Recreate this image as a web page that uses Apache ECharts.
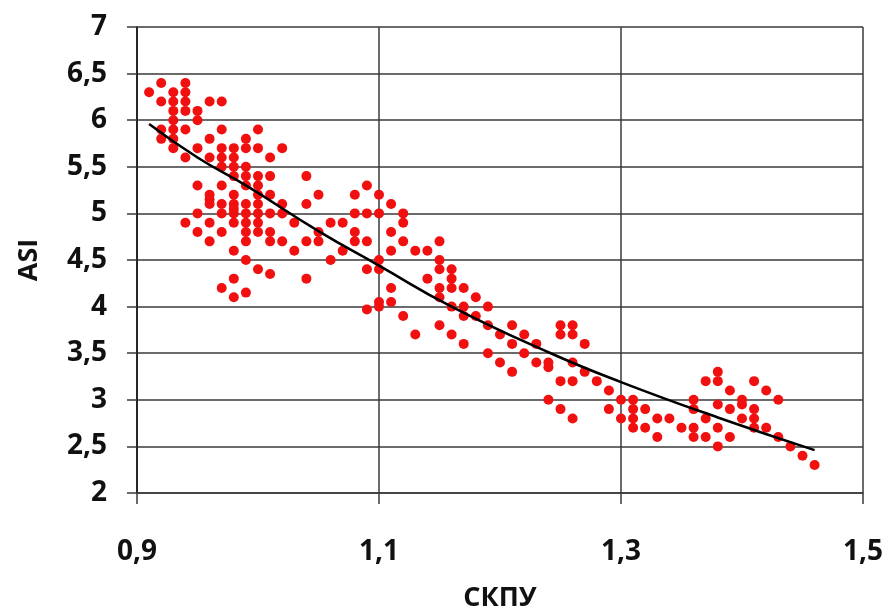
<!DOCTYPE html>
<html>
<head>
<meta charset="utf-8">
<script src="https://cdn.jsdelivr.net/npm/echarts@6/dist/echarts.min.js"></script>
<style>
  html, body { margin: 0; padding: 0; background: #fff; }
  #chart-container { width: 887px; height: 608px; }
</style>
</head>
<body>
<div id="chart-container"></div>
<script>
var dom = document.getElementById("chart-container");
var myChart = echarts.init(dom, null, { renderer: "canvas" });

// СКПУ -> ASI measurements, grouped by СКПУ value
const skpuValues = [
  0.91, 0.92, 0.93, 0.94, 0.95, 0.96, 0.97, 0.98, 0.99, 1.00,
  1.01, 1.02, 1.03, 1.04, 1.05, 1.06, 1.07, 1.08, 1.09, 1.10,
  1.11, 1.12, 1.13, 1.14, 1.15, 1.16, 1.17, 1.18, 1.19, 1.20,
  1.21, 1.22, 1.23, 1.24, 1.25, 1.26, 1.27, 1.28, 1.29, 1.30,
  1.31, 1.32, 1.33, 1.34, 1.35, 1.36, 1.37, 1.38, 1.39, 1.40,
  1.41, 1.42, 1.43, 1.44, 1.45, 1.46,
];
const asiValues = [
  [6.3],
  [6.4, 6.2, 5.9, 5.8],
  [6.3, 6.2, 6.1, 6.0, 5.9, 5.8, 5.7],
  [6.4, 6.3, 6.2, 6.1, 5.9, 5.6, 4.9],
  [6.1, 6.0, 5.7, 5.3, 5.0, 4.8],
  [6.2, 5.8, 5.6, 5.2, 5.15, 5.1, 4.9, 4.7],
  [6.2, 5.9, 5.7, 5.6, 5.5, 5.3, 5.1, 5.0, 4.8, 4.2],
  [5.7, 5.6, 5.5, 5.4, 5.2, 5.1, 5.05, 5.0, 4.9, 4.6, 4.3, 4.1],
  [5.8, 5.7, 5.5, 5.4, 5.3, 5.1, 5.0, 4.9, 4.8, 4.7, 4.5, 4.15],
  [5.9, 5.7, 5.4, 5.3, 5.2, 5.1, 5.0, 4.9, 4.8, 4.4],
  [5.6, 5.4, 5.2, 5.0, 4.8, 4.7, 4.35],
  [5.7, 5.1, 5.0, 4.7],
  [4.9, 4.6],
  [5.4, 5.1, 4.7, 4.3],
  [5.2, 4.8, 4.7],
  [4.9, 4.5],
  [4.9, 4.6],
  [5.2, 5.0, 4.8, 4.7],
  [5.3, 5.0, 4.7, 4.4, 3.97],
  [5.2, 5.0, 4.5, 4.4, 4.05, 4.0],
  [5.1, 4.8, 4.6, 4.2, 4.05],
  [5.0, 4.9, 4.7, 3.9],
  [4.6, 3.7],
  [4.6, 4.3],
  [4.7, 4.5, 4.4, 4.2, 4.1, 3.8],
  [4.4, 4.3, 4.2, 4.0, 3.7],
  [4.2, 4.0, 3.9, 3.6],
  [4.1, 3.9],
  [4.0, 3.8, 3.5],
  [3.7, 3.4],
  [3.8, 3.6, 3.3],
  [3.7, 3.5],
  [3.6, 3.4],
  [3.4, 3.35, 3.0],
  [3.8, 3.7, 3.2, 2.9],
  [3.8, 3.7, 3.4, 3.2, 2.8],
  [3.6, 3.3],
  [3.2],
  [3.1, 2.9],
  [3.0, 2.8],
  [3.0, 2.9, 2.8, 2.7],
  [2.9, 2.7],
  [2.8, 2.6],
  [2.8],
  [2.7],
  [3.0, 2.9, 2.7, 2.6],
  [3.2, 2.8, 2.6],
  [3.3, 3.2, 2.95, 2.7, 2.5],
  [3.1, 2.9, 2.6],
  [3.0, 2.95, 2.8],
  [3.2, 2.9, 2.8, 2.7],
  [3.1, 2.7],
  [3.0, 2.6],
  [2.5],
  [2.4],
  [2.3],
];

// trend line
const trendX = [0.91, 0.95, 0.99, 1.05, 1.10, 1.16, 1.24, 1.30, 1.38, 1.46];
const trendY = [5.96, 5.60, 5.30, 4.81, 4.44, 4.00, 3.51, 3.19, 2.81, 2.46];

const xTicks = [0.9, 1.1, 1.3, 1.5];
const yMin = 2, yMax = 7, yStep = 0.5;

const points = [];
skpuValues.forEach((x, i) => {
  asiValues[i].forEach((y) => points.push([x, y]));
});
const trend = trendX.map((x, i) => [x, trendY[i]]);

const fmt = (v) => String(+v.toFixed(2)).replace(".", ",");
const lineColor = "#3a3a3a";
const font = "'Open Sans', sans-serif";
const textColor = "#111";

var option = {
  animation: false,
  backgroundColor: "#fff",
  grid: { left: 137, right: 24, top: 27, bottom: 115, outerBoundsMode: "none" },
  xAxis: {
    type: "value",
    min: xTicks[0],
    max: xTicks[xTicks.length - 1],
    interval: 0.2,
    name: "СКПУ",
    nameLocation: "middle",
    nameGap: 92,
    nameTextStyle: { fontFamily: font, fontWeight: "bold", fontSize: 27, color: textColor },
    axisLine: { show: true, lineStyle: { color: lineColor, width: 1.5 } },
    axisTick: { show: true, length: 11, lineStyle: { color: lineColor, width: 1.5 } },
    axisLabel: {
      margin: 45,
      fontFamily: font,
      fontWeight: "bold",
      fontSize: 28,
      color: textColor,
      formatter: fmt,
    },
    splitLine: { show: true, lineStyle: { color: lineColor, width: 1.5 } },
  },
  yAxis: {
    type: "value",
    min: yMin,
    max: yMax,
    interval: yStep,
    name: "ASI",
    nameLocation: "middle",
    nameGap: 94,
    nameTextStyle: { fontFamily: font, fontWeight: "bold", fontSize: 27, color: textColor },
    axisLine: { show: true, lineStyle: { color: "#111", width: 1.5 } },
    axisTick: { show: true, length: 10, lineStyle: { color: lineColor, width: 1.5 } },
    axisLabel: {
      margin: 30,
      fontFamily: font,
      fontWeight: "bold",
      fontSize: 28,
      color: textColor,
      formatter: fmt,
    },
    splitLine: { show: true, lineStyle: { color: lineColor, width: 1.5 } },
  },
  series: [
    {
      type: "scatter",
      data: points,
      symbol: "circle",
      symbolSize: 10,
      itemStyle: { color: "#f01010", opacity: 1 },
      z: 2,
    },
    {
      type: "line",
      data: trend,
      smooth: true,
      showSymbol: false,
      lineStyle: { color: "#000", width: 2.6 },
      z: 3,
    },
  ],
};

myChart.setOption(option);
window.addEventListener("resize", myChart.resize);
</script>
</body>
</html>
